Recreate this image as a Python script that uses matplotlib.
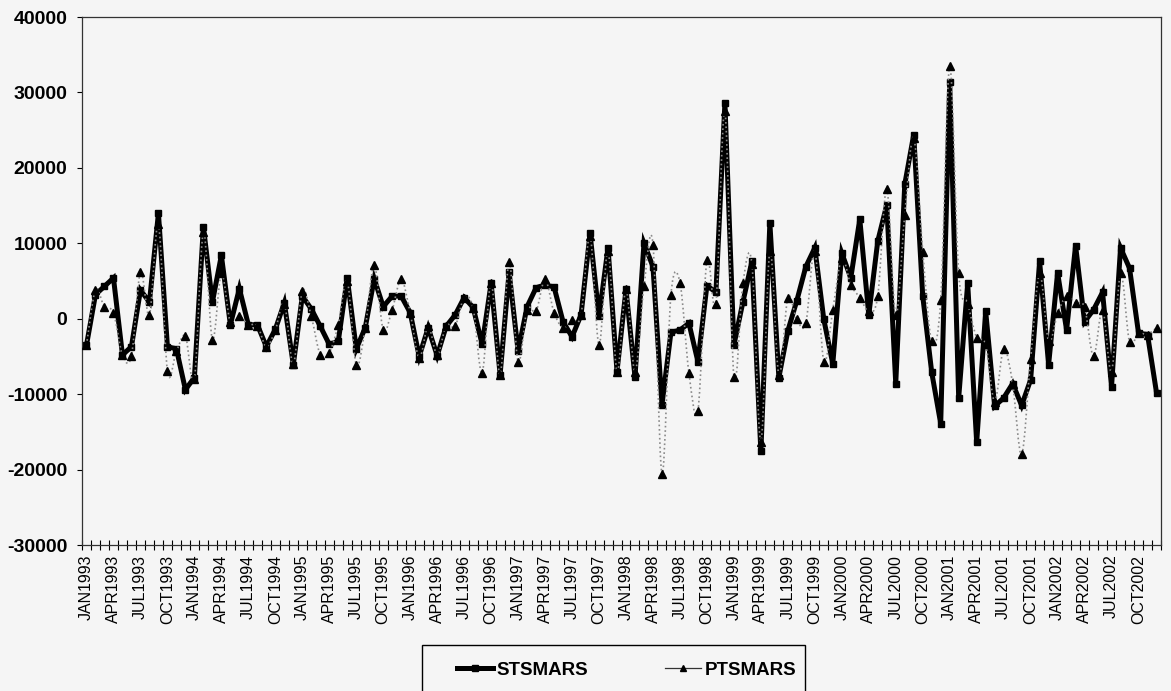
import matplotlib.pyplot as plt
import numpy as np
from matplotlib.path import Path
from matplotlib.patches import PathPatch, Rectangle
from matplotlib.lines import Line2D

plt.rcParams['font.family'] = ['Liberation Sans', 'DejaVu Sans']

# monthly labels JAN1993 .. DEC2002
months = ['JAN', 'FEB', 'MAR', 'APR', 'MAY', 'JUN', 'JUL', 'AUG', 'SEP', 'OCT', 'NOV', 'DEC']
years = list(range(1993, 2003))
labels = [m + str(y) for y in years for m in months]

stsmars = [
    -3500, 3200, 4300, 5400, -4800, -3700, 3800, 2200, 14000, -3700, -4000, -9400,
    -7800, 12200, 2200, 8400, -800, 4000, -800, -800, -3700, -1400, 2100, -6100,
    3000, 1300, -1000, -3400, -3000, 5400, -4000, -1200, 5300, 1600, 3000, 3000,
    800, -5000, -1200, -4900, -1000, 500, 2800, 1500, -3400, 4700, -7400, 6200,
    -4300, 1600, 4100, 4500, 4200, -400, -2400, 500, 11300, 300, 9400, -7000,
    3900, -7700, 10000, 6900, -11400, -1800, -1500, -600, -5700, 4400, 3500, 28600,
    -3500, 2200, 7600, -17600, 12700, -7800, -1600, 2400, 6900, 9400, -100, -6000,
    8700, 5400, 13200, 500, 10300, 15100, -8600, 17800, 24400, 3000, -7100, -13900,
    31400, -10500, 4700, -16400, 1000, -11600, -10500, -8600, -11500, -8100, 7600, -6100,
    6100, -1500, 9700, -400, 1200, 3500, -9000, 9400, 6700, -1900, -2100, -9800,
]

ptsmars = [
    -3500, 3800, 1500, 800, -4800, -4900, 6200, 500, 12500, -6900, -4300, -2300,
    -8000, 11500, -2800, 6000, -500, 300, -800, -900, -3700, -1500, 2000, -6000,
    3700, 300, -4800, -4500, -800, 5000, -6100, -1200, 7100, -1500, 1200, 5200,
    800, -5200, -1000, -4800, -900, -1000, 2800, 1400, -7200, 4800, -7400, 7500,
    -5700, 1200, 1000, 5200, 800, -1200, -200, 500, 11000, -3500, 9000, -7000,
    3900, -7000, 4300, 9800, -20600, 3200, 4800, -7200, -12200, 7800, 2000, 27500,
    -7700, 4700, 7300, -16300, 9000, -7500, 2800, -100, -600, 9000, -5700, 1200,
    8000, 4500, 2800, 1000, 3000, 17200, 500, 13800, 24000, 8900, -3000, 2500,
    33500, 6000, 2000, -2500, -3400, -11000, -4000, -8600, -18000, -5400, 6000, -3000,
    700, 3000, 2100, 1500, -5000, 1200, -7000, 6000, -3100, -1900, -2100, -1200,
]

yticks = [-30000, -20000, -10000, 0, 10000, 20000, 30000, 40000]

bg = '#f5f5f5'
fig = plt.figure(figsize=(11.71, 6.91), dpi=100, facecolor=bg)
ax = fig.add_axes([82 / 1171, 1 - 545 / 691, (1161 - 82) / 1171, (545 - 17) / 691],
                  facecolor=bg)

x = np.arange(len(labels))
y_st = np.array(stsmars, dtype=float)
y_pt = np.array(ptsmars, dtype=float)

ax.plot(x, y_st, color='black', lw=3.6, marker='s', ms=5,
        solid_joinstyle='miter', zorder=2)

# smoothed dotted connector for PTSMARS (bezier through the data points)
verts = [(x[0], y_pt[0])]
codes = [Path.MOVETO]
n = len(x)
for i in range(n - 1):
    p0 = i - 1 if i > 0 else i
    p3 = i + 2 if i + 2 < n else i + 1
    c1 = (x[i] + (x[i + 1] - x[p0]) / 6, y_pt[i] + (y_pt[i + 1] - y_pt[p0]) / 6)
    c2 = (x[i + 1] - (x[p3] - x[i]) / 6, y_pt[i + 1] - (y_pt[p3] - y_pt[i]) / 6)
    verts += [c1, c2, (x[i + 1], y_pt[i + 1])]
    codes += [Path.CURVE4] * 3
ax.add_patch(PathPatch(Path(verts, codes), fill=False, edgecolor='#8a8a8a',
                       lw=1.2, ls=':', zorder=3))
ax.plot(x, y_pt, ls='none', marker='^', ms=5.5, mfc='black', mec='black', zorder=4)

ax.set_xlim(-0.5, len(labels) - 0.5)
ax.set_ylim(-30000, 40000)
ax.set_yticks(yticks)
ax.set_yticklabels([str(v) for v in yticks], fontsize=14, fontweight='bold')
ax.set_xticks(x[::3])
ax.set_xticklabels(labels[::3], rotation=90, fontsize=11.5)
ax.set_xticks(np.arange(-0.5, len(labels), 1), minor=True)
ax.tick_params(axis='x', which='major', length=0, pad=7)
ax.tick_params(axis='x', which='minor', direction='inout', length=7, width=0.8)
ax.tick_params(axis='y', direction='out', length=3.6, width=0.8, pad=7)
for s in ax.spines.values():
    s.set_linewidth(0.9)
    s.set_color('#333333')

# legend box
fig.patches.append(Rectangle((422 / 1171, -0.01), (805 - 422) / 1171, (691 - 645) / 691 + 0.01,
                             transform=fig.transFigure, fill=False, edgecolor='black', lw=1.0))
handles = [
    Line2D([], [], color='black', lw=3.6, marker='s', ms=4),
    Line2D([], [], color='#333333', lw=0.9, marker='^', ms=5, mfc='black', mec='black'),
]
fig.legend(handles, ['STSMARS', 'PTSMARS'], loc='center', bbox_to_anchor=(0.535, 1 - 670 / 691),
           ncol=2, frameon=False, prop={'weight': 'bold', 'size': 13.5},
           handlelength=1.9, handletextpad=0.2, columnspacing=4.1, borderpad=0)

fig.savefig('out.png', dpi=100, facecolor=bg)
